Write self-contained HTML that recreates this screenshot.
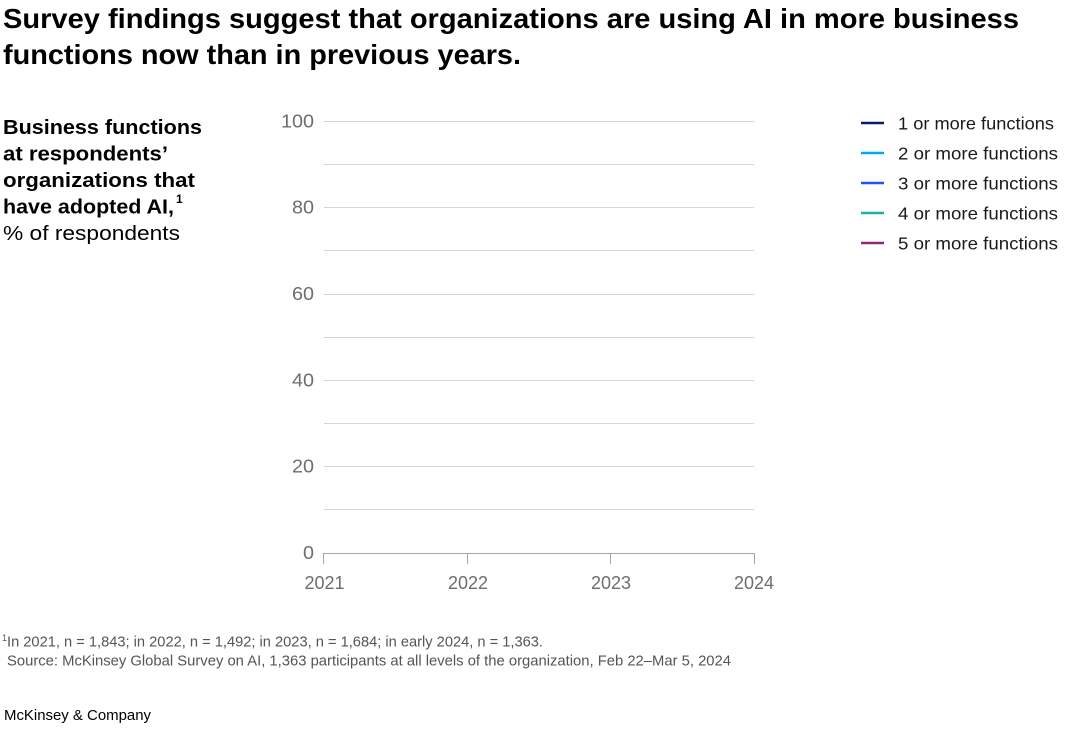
<!DOCTYPE html>
<html><head><meta charset="utf-8"><style>
html,body{margin:0;padding:0;background:#fff;}
svg{display:block;}
text{font-family:"Liberation Sans",sans-serif;}
</style></head><body>
<svg width="1080" height="733" viewBox="0 0 1080 733" xmlns="http://www.w3.org/2000/svg">
<rect width="1080" height="733" fill="#fff"/>
<!-- Title -->
<text x="3" y="28" font-size="28" font-weight="bold" fill="#000" textLength="1016" lengthAdjust="spacingAndGlyphs">Survey findings suggest that organizations are using AI in more business</text>
<text x="3" y="64" font-size="28" font-weight="bold" fill="#000" textLength="518" lengthAdjust="spacingAndGlyphs">functions now than in previous years.</text>
<!-- Left label -->
<text x="3" y="134" font-size="20.5" font-weight="bold" fill="#000" textLength="199" lengthAdjust="spacingAndGlyphs">Business functions</text>
<text x="3" y="160.5" font-size="20.5" font-weight="bold" fill="#000" textLength="165" lengthAdjust="spacingAndGlyphs">at respondents’</text>
<text x="3" y="187" font-size="20.5" font-weight="bold" fill="#000" textLength="192" lengthAdjust="spacingAndGlyphs">organizations that</text>
<text x="3" y="213.5" font-size="20.5" font-weight="bold" fill="#000" textLength="171" lengthAdjust="spacingAndGlyphs">have adopted AI,</text>
<text x="176" y="203" font-size="12" font-weight="bold" fill="#000">1</text>
<text x="3" y="240" font-size="20.5" fill="#000" textLength="177" lengthAdjust="spacingAndGlyphs">% of respondents</text>
<!-- Grid -->
<g stroke="#d6d6d6" stroke-width="1">
<line x1="324" y1="121.5" x2="754" y2="121.5"/>
<line x1="324" y1="164.5" x2="754" y2="164.5"/>
<line x1="324" y1="207.5" x2="754" y2="207.5"/>
<line x1="324" y1="250.5" x2="754" y2="250.5"/>
<line x1="324" y1="294.5" x2="754" y2="294.5"/>
<line x1="324" y1="337.5" x2="754" y2="337.5"/>
<line x1="324" y1="380.5" x2="754" y2="380.5"/>
<line x1="324" y1="423.5" x2="754" y2="423.5"/>
<line x1="324" y1="466.5" x2="754" y2="466.5"/>
<line x1="324" y1="509.5" x2="754" y2="509.5"/>
</g>
<g stroke="#a6a6a6" stroke-width="1">
<line x1="323.5" y1="553.5" x2="754.5" y2="553.5"/>
<line x1="323.5" y1="553" x2="323.5" y2="564"/>
<line x1="467.5" y1="553" x2="467.5" y2="564"/>
<line x1="610.5" y1="553" x2="610.5" y2="564"/>
<line x1="754.5" y1="553" x2="754.5" y2="564"/>
</g>
<!-- Y labels -->
<g font-size="18.5" fill="#6e6e6e">
<text x="281" y="127.5" textLength="33" lengthAdjust="spacingAndGlyphs">100</text>
<text x="292" y="213.5" textLength="22" lengthAdjust="spacingAndGlyphs">80</text>
<text x="292" y="300" textLength="22" lengthAdjust="spacingAndGlyphs">60</text>
<text x="292" y="386.5" textLength="22" lengthAdjust="spacingAndGlyphs">40</text>
<text x="292" y="472.5" textLength="22" lengthAdjust="spacingAndGlyphs">20</text>
<text x="303" y="559" textLength="11" lengthAdjust="spacingAndGlyphs">0</text>
</g>
<!-- X labels -->
<g font-size="18" fill="#6e6e6e" text-anchor="middle">
<text x="324.5" y="589">2021</text>
<text x="468" y="589">2022</text>
<text x="611" y="589">2023</text>
<text x="754" y="589">2024</text>
</g>
<!-- Legend -->
<g stroke-width="2.5">
<line x1="861" y1="123" x2="884" y2="123" stroke="#051c6b"/>
<line x1="861" y1="153" x2="884" y2="153" stroke="#00a9f4"/>
<line x1="861" y1="183" x2="884" y2="183" stroke="#2251ff"/>
<line x1="861" y1="213" x2="884" y2="213" stroke="#1eb1a3"/>
<line x1="861" y1="243" x2="884" y2="243" stroke="#8e2a7e"/>
</g>
<g font-size="17.5" fill="#1a1a1a">
<text x="898" y="129.5" textLength="156" lengthAdjust="spacingAndGlyphs">1 or more functions</text>
<text x="898" y="159.5" textLength="160" lengthAdjust="spacingAndGlyphs">2 or more functions</text>
<text x="898" y="189.5" textLength="160" lengthAdjust="spacingAndGlyphs">3 or more functions</text>
<text x="898" y="219.5" textLength="160" lengthAdjust="spacingAndGlyphs">4 or more functions</text>
<text x="898" y="249.5" textLength="160" lengthAdjust="spacingAndGlyphs">5 or more functions</text>
</g>
<!-- Footnotes -->
<text x="2" y="641" font-size="9" fill="#555">1</text>
<text x="7" y="646.5" font-size="14.5" fill="#555" textLength="536" lengthAdjust="spacingAndGlyphs">In 2021, n = 1,843; in 2022, n = 1,492; in 2023, n = 1,684; in early 2024, n = 1,363.</text>
<text x="7" y="665.5" font-size="14.5" fill="#555" textLength="724" lengthAdjust="spacingAndGlyphs">Source: McKinsey Global Survey on AI, 1,363 participants at all levels of the organization, Feb 22–Mar 5, 2024</text>
<text x="4" y="720" font-size="14.5" fill="#000" textLength="147" lengthAdjust="spacingAndGlyphs">McKinsey &amp; Company</text>
</svg>
</body></html>
